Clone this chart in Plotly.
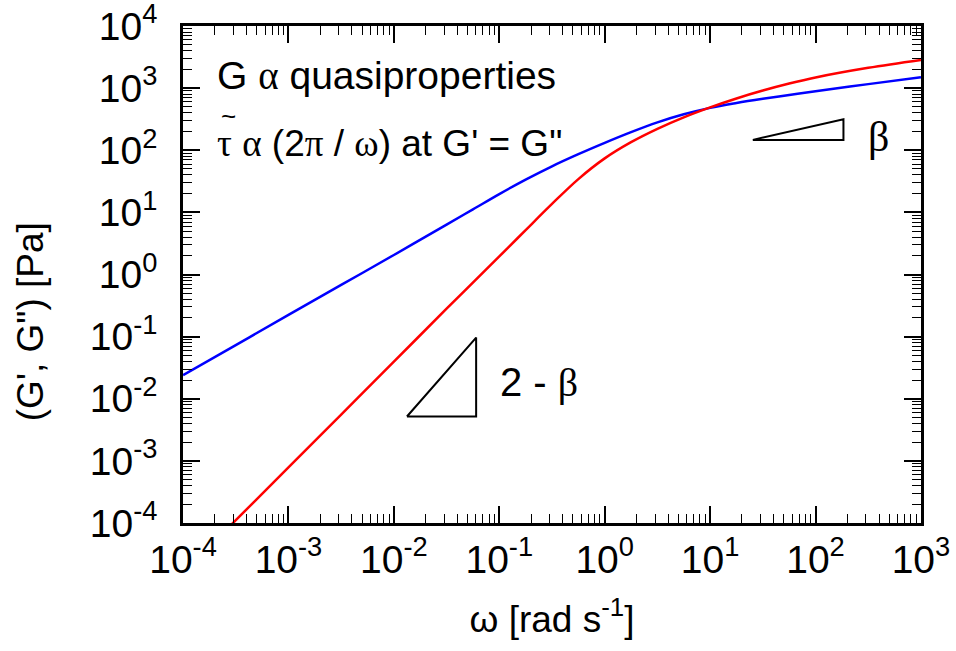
import plotly.graph_objects as go

# ---- data (log-log) ----
omega_blue = [1e-4, 3.162e-4, 1e-3, 3.162e-3, 1e-2, 3.162e-2, 0.05623, 0.1, 0.1778, 0.3162,
              0.5623, 1.0, 1.778, 3.162, 5.623, 10.0, 17.78, 31.62, 56.23, 100.0, 316.2, 1000.0]
G_loss = [0.02393, 0.0731, 0.2234, 0.679, 2.061, 6.368, 11.18, 19.72, 33.69, 55.27,
          86.6, 131.8, 196.1, 281.8, 380.2, 481.4, 575.4, 672.5, 776.2, 891.3, 1161.0, 1496.0]

omega_red = [2.897e-4, 1e-3, 3.162e-3, 1e-2, 3.162e-2, 0.1, 0.1778, 0.3162, 0.5623,
             1.0, 1.778, 3.162, 5.623, 10.0, 17.78, 31.62, 56.23, 100.0, 316.2, 1000.0]
G_storage = [9.55e-5, 7.85e-4, 5.56e-3, 0.0394, 0.282, 1.95, 5.19, 13.68, 34.36,
             73.96, 134.9, 221.3, 338.8, 489.8, 682.3, 914.1, 1186.0, 1486.0, 2123.0, 2844.0]

# slope guide triangles (vertices)
tri1_x = [0.0133, 0.0603, 0.0603, 0.0133]
tri1_y = [0.00518, 0.00518, 0.0964, 0.00518]
tri2_x = [25.4, 184.0, 184.0, 25.4]
tri2_y = [146.9, 146.9, 316.0, 146.9]

x_tickvals = [1e-4, 1e-3, 1e-2, 1e-1, 1e0, 1e1, 1e2, 1e3]
x_ticktext = ["10<sup>-4</sup>", "10<sup>-3</sup>", "10<sup>-2</sup>", "10<sup>-1</sup>",
              "10<sup>0</sup>", "10<sup>1</sup>", "10<sup>2</sup>", "10<sup>3</sup>"]
y_tickvals = [1e-4, 1e-3, 1e-2, 1e-1, 1e0, 1e1, 1e2, 1e3, 1e4]
y_ticktext = ["10<sup>-4</sup>", "10<sup>-3</sup>", "10<sup>-2</sup>", "10<sup>-1</sup>",
              "10<sup>0</sup>", "10<sup>1</sup>", "10<sup>2</sup>", "10<sup>3</sup>",
              "10<sup>4</sup>"]


def minor_vals(lo, hi):
    out = []
    for e in range(lo, hi):
        for k in range(2, 10):
            out.append(k * 10.0 ** e)
    return out


fig = go.Figure()
fig.add_trace(go.Scatter(x=omega_blue, y=G_loss, mode="lines",
                         line=dict(color="#0000ff", width=2.5, shape="spline", smoothing=1.0)))
fig.add_trace(go.Scatter(x=omega_red, y=G_storage, mode="lines",
                         line=dict(color="#ff0000", width=2.5, shape="spline", smoothing=1.0)))
fig.add_trace(go.Scatter(x=tri1_x, y=tri1_y, mode="lines", line=dict(color="black", width=2)))
fig.add_trace(go.Scatter(x=tri2_x, y=tri2_y, mode="lines", line=dict(color="black", width=2)))
# invisible trace on the overlay axes that carry the minor ticks
fig.add_trace(go.Scatter(x=[1e-4], y=[1e-4], xaxis="x2", yaxis="y2", mode="markers",
                         marker=dict(opacity=0), hoverinfo="skip"))

FONT = "Liberation Sans"
GREEK = "<span style=\"font-family:'Liberation Serif'\">%s</span>"
TICKFONT = dict(size=39, family=FONT, color="black")
EPS = 0.0005

axis_common = dict(type="log", ticks="inside", ticklen=17, tickwidth=1.6, tickcolor="black",
                   showline=True, linewidth=2.5, linecolor="black", mirror="ticks",
                   showgrid=False, zeroline=False, automargin=False, tickfont=TICKFONT,
                   ticklabeloverflow="allow")
minor_common = dict(type="log", ticks="inside", ticklen=9, tickwidth=1.3, tickcolor="black",
                    showline=True, linewidth=2.5, linecolor="black", mirror="ticks",
                    showgrid=False, zeroline=False, automargin=False, showticklabels=False)

fig.update_layout(
    xaxis=dict(range=[-4 - EPS, 3 + EPS], tickvals=x_tickvals, ticktext=x_ticktext,
               title=dict(text="ω [rad s<sup>-1</sup>]", font=dict(size=37, family=FONT),
                          standoff=27),
               **axis_common),
    yaxis=dict(range=[-4 - EPS, 4 + EPS], tickvals=y_tickvals, ticktext=y_ticktext,
               ticklabelstandoff=15, **axis_common),
    xaxis2=dict(range=[-4 - EPS, 3 + EPS], tickvals=minor_vals(-4, 3), overlaying="x",
                anchor="y2", **minor_common),
    yaxis2=dict(range=[-4 - EPS, 4 + EPS], tickvals=minor_vals(-4, 4), overlaying="y",
                anchor="x2", **minor_common),
)

# y-axis title (placed like the reference, slightly below the axis centre)
fig.add_annotation(xref="paper", yref="paper", x=-0.2073, y=0.404, xanchor="center",
                   yanchor="middle", textangle=-90, text="(G', G\") [Pa]", showarrow=False,
                   font=dict(size=37, family=FONT, color="black"))

fig.add_annotation(xref="paper", yref="paper", x=0.0434, y=0.901, xanchor="left", yanchor="middle",
                   text="G " + GREEK % "α" + " quasiproperties", showarrow=False,
                   font=dict(size=39, family=FONT, color="black"))
fig.add_annotation(xref="paper", yref="paper", x=0.0434, y=0.763, xanchor="left", yanchor="middle",
                   text=GREEK % "τ" + " " + GREEK % "α" + " (2" + GREEK % "π" + " / " + GREEK % "ω" + ") at G' = G\"",
                   showarrow=False, font=dict(size=37, family=FONT, color="black"))
fig.add_annotation(xref="paper", yref="paper", x=0.0615, y=0.818, xanchor="center", yanchor="middle",
                   text="~", showarrow=False, font=dict(size=26, family=FONT, color="black"))
fig.add_annotation(xref="paper", yref="paper", x=0.4275, y=0.282, xanchor="left", yanchor="middle",
                   text="2 - " + GREEK % "β", showarrow=False,
                   font=dict(size=40, family=FONT, color="black"))
fig.add_annotation(xref="paper", yref="paper", x=0.925, y=0.776, xanchor="left", yanchor="middle",
                   text=GREEK % "β", showarrow=False,
                   font=dict(size=42, family=FONT, color="black"))

fig.update_layout(width=956, height=651, margin=dict(l=183, r=35, t=26, b=128),
                  plot_bgcolor="white", paper_bgcolor="white", showlegend=False,
                  font=dict(family=FONT, color="black"))

# remove the default 8 px page margin so the figure sits at the window's top-left corner
fig.write_html("out.html", config={"displayModeBar": False},
               post_script="document.body.style.margin='0px';")
